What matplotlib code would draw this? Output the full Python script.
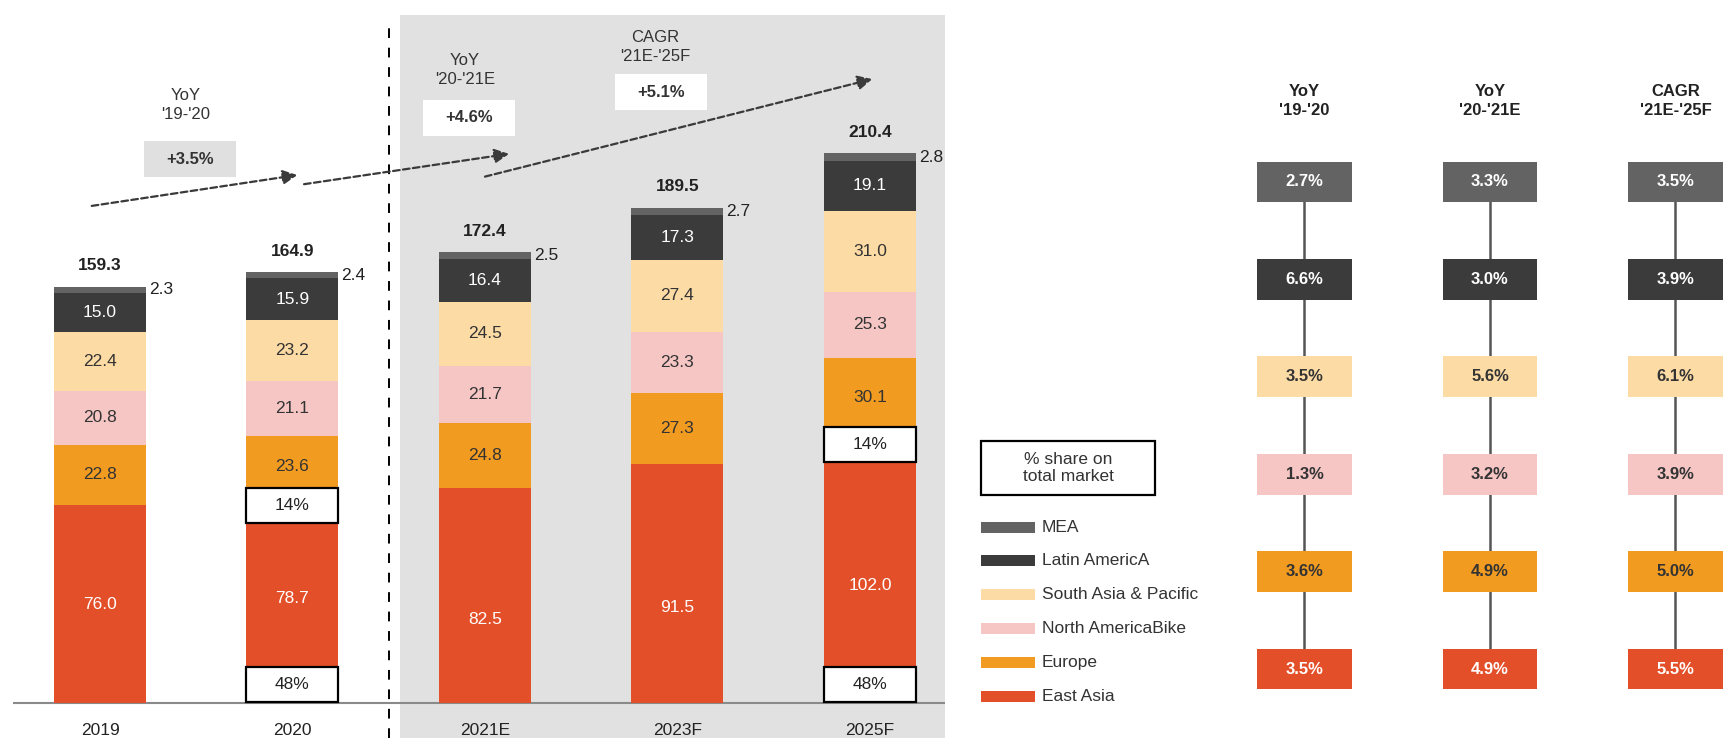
import matplotlib
matplotlib.use('Agg')
import matplotlib.pyplot as plt
from matplotlib.patches import Rectangle
import numpy as np

plt.rcParams['font.family'] = ['Liberation Sans', 'DejaVu Sans']

# Data
years = ['2019', '2020', '2021E', '2023F', '2025F']
regions = ['MEA', 'Latin AmericA', 'South Asia & Pacific', 'North AmericaBike', 'Europe', 'East Asia']
mea = [2.3, 2.4, 2.5, 2.7, 2.8]
latin_america = [15.0, 15.9, 16.4, 17.3, 19.1]
south_asia = [22.4, 23.2, 24.5, 27.4, 31.0]
north_america = [20.8, 21.1, 21.7, 23.3, 25.3]
europe = [22.8, 23.6, 24.8, 27.3, 30.1]
east_asia = [76.0, 78.7, 82.5, 91.5, 102.0]
totals = [159.3, 164.9, 172.4, 189.5, 210.4]
share_bars = ['2020', '2025F']

growth_headers = ["YoY\n'19-'20", "YoY\n'20-'21E", "CAGR\n'21E-'25F"]
growth_total = ['+3.5%', '+4.6%', '+5.1%']
# rows: MEA, Latin, South Asia, North America, Europe, East Asia
yoy_19_20 = [2.7, 6.6, 3.5, 1.3, 3.6, 3.5]
yoy_20_21 = [3.3, 3.0, 5.6, 3.2, 4.9, 4.9]
cagr_21_25 = [3.5, 3.9, 6.1, 3.9, 5.0, 5.5]

colors = ['#636363', '#3b3b3b', '#fddba5', '#f6c6c5', '#f29b21', '#e34f28']
txt_colors = ['white', 'white', '#333333', '#333333', '#333333', 'white']

# layout-only: vertical position of the East Asia labels
ea_label_y = [37.7, 39.9, 32.1, 36.7, 45.0]

fig = plt.figure(figsize=(17.23, 7.38), dpi=100)
W, H = 1723, 738

# --- stacked bars ---
ax = fig.add_axes([13 / W, 0, (945 - 13) / W, (738 - 15) / H])
ax.set_xlim(-0.452, 4.39)
ax.set_ylim(-13.27, 263.2)
ax.axis('off')

x = np.arange(len(years))
bw = 0.478
ax.axvspan(1.558, 4.39, color='#e1e1e1', zorder=0, lw=0)
ax.plot([1.504, 1.504], [-13.3, 260.5], color='black', lw=1.4, ls=(0, (5, 5)), zorder=1)
ax.axhline(0, color='#8a8a8a', lw=1.5, zorder=1)

series = [east_asia, europe, north_america, south_asia, latin_america, mea]
series_cols = colors[::-1]
series_txt = txt_colors[::-1]
bottom = np.zeros(len(years))
for k, vals in enumerate(series):
    vals = np.array(vals)
    ax.bar(x, vals, bw, bottom=bottom, color=series_cols[k], zorder=2)
    for i, v in enumerate(vals):
        if k == 5:
            ax.text(x[i] + bw / 2 + 0.015, bottom[i] + v / 2, f'{v:.1f}', ha='left', va='center',
                    fontsize=12.5, color='#222222', zorder=5)
        else:
            yy = ea_label_y[i] if k == 0 else bottom[i] + v / 2
            ax.text(x[i], yy, f'{v:.1f}', ha='center', va='center', fontsize=12.5,
                    color=series_txt[k], zorder=5)
    bottom += vals

for i, t in enumerate(totals):
    ax.text(x[i], t + 8, f'{t:.1f}', ha='center', va='center', fontsize=12.5,
            fontweight='bold', color='#222222', zorder=5)
    ax.text(x[i], -10.5, years[i], ha='center', va='center', fontsize=12.5, color='#222222')

# share boxes
for yr in share_bars:
    i = years.index(yr)
    eu_share = europe[i] / totals[i] * 100
    ea_share = east_asia[i] / totals[i] * 100
    for yc, s in [(east_asia[i] - 3.0, eu_share), (7.2, ea_share)]:
        ax.add_patch(Rectangle((x[i] - bw / 2, yc - 6.7), bw, 13.4, facecolor='white',
                               edgecolor='black', lw=1.6, zorder=4))
        ax.text(x[i], yc, f'{s:.0f}%', ha='center', va='center', fontsize=12.5,
                color='#222222', zorder=5)

# growth annotations
ann_pos = [(0.447, 228.8, 0.468, 208.1, '#e0e0e0'),
           (1.896, 242.2, 1.917, 223.9, 'white'),
           (2.883, 250.9, 2.916, 233.6, 'white')]
for (tx, ty, bx, by, bc), hdr, g in zip(ann_pos, growth_headers, growth_total):
    ax.text(tx, ty, hdr, ha='center', va='center', fontsize=12, color='#333333', linespacing=1.3)
    ax.add_patch(Rectangle((bx - 0.24, by - 6.9), 0.48, 13.8, facecolor=bc, edgecolor='none', zorder=3))
    ax.text(bx, by, g, ha='center', va='center', fontsize=12, fontweight='bold', color='#333333', zorder=4)

arrows = [((-0.043, 190.2), (1.025, 202.0)),
          ((1.060, 198.5), (2.125, 210.1)),
          ((2.0, 201.4), (4.012, 238.7))]
for st, en in arrows:
    ax.annotate('', xy=en, xytext=st,
                arrowprops=dict(arrowstyle='-|>', color='#3a3a3a', lw=1.6, ls=(0, (3, 1.5)),
                                mutation_scale=22, shrinkA=0, shrinkB=0), zorder=3)

# --- legend (pixel coordinates) ---
lax = fig.add_axes([0, 0, 1, 1])
lax.set_xlim(0, W)
lax.set_ylim(H, 0)
lax.axis('off')
lax.add_patch(Rectangle((981, 441), 174, 54, facecolor='white', edgecolor='black', lw=1.6))
lax.text(1068, 468, '% share on\ntotal market', ha='center', va='center', fontsize=12.5,
         color='#333333', linespacing=1.15)
for j, (name, c) in enumerate(zip(regions, colors)):
    yc = 527 + j * 33.94
    lax.add_patch(Rectangle((981, yc - 5.5), 54, 11, facecolor=c, edgecolor='none'))
    lax.text(1042, yc, name, ha='left', va='center', fontsize=12.5, color='#333333')

# --- growth table ---
rax = fig.add_axes([0, 0, 1, 1])
rax.set_xlim((0 - 1304.5) / 185.5, (W - 1304.5) / 185.5)
rax.set_ylim((H - 182) / 97.4, (0 - 182) / 97.4)
rax.axis('off')
for c, (hdr, vals) in enumerate(zip(growth_headers, [yoy_19_20, yoy_20_21, cagr_21_25])):
    rax.text(c, -0.835, hdr, ha='center', va='center', fontsize=12, fontweight='bold',
             color='#222222', linespacing=1.35)
    rax.plot([c, c], [0, len(vals) - 1], color='#555555', lw=1.8, zorder=1)
    for r, v in enumerate(vals):
        rax.add_patch(Rectangle((c - 0.256, r - 0.21), 0.512, 0.42, facecolor=colors[r],
                                edgecolor='none', zorder=2))
        rax.text(c, r, f'{v:.1f}%', ha='center', va='center', fontsize=12, fontweight='bold',
                 color=txt_colors[r], zorder=3)

fig.savefig('out.png', dpi=100)
